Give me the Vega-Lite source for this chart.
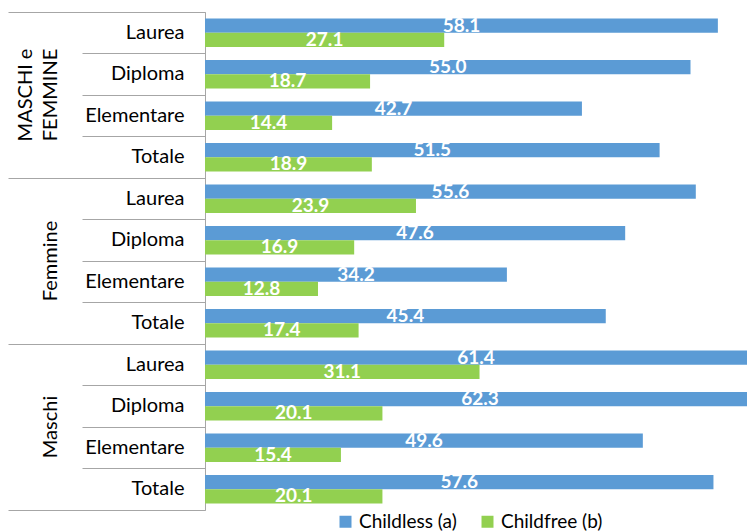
{
  "$schema": "https://vega.github.io/schema/vega-lite/v6.json",
  "width": 542,
  "height": 498,
  "autosize": {"type": "none"},
  "padding": {"left": 205, "top": 12, "right": 0, "bottom": 21},
  "config": {"view": {"stroke": null}, "font": "Lato"},
  "data": {
    "values": [
      {"key": "MASCHI e FEMMINE|Laurea", "group": "MASCHI e FEMMINE", "cat": "Laurea", "series": "Childless (a)", "value": 58.1},
      {"key": "MASCHI e FEMMINE|Laurea", "group": "MASCHI e FEMMINE", "cat": "Laurea", "series": "Childfree (b)", "value": 27.1},
      {"key": "MASCHI e FEMMINE|Diploma", "group": "MASCHI e FEMMINE", "cat": "Diploma", "series": "Childless (a)", "value": 55.0},
      {"key": "MASCHI e FEMMINE|Diploma", "group": "MASCHI e FEMMINE", "cat": "Diploma", "series": "Childfree (b)", "value": 18.7},
      {"key": "MASCHI e FEMMINE|Elementare", "group": "MASCHI e FEMMINE", "cat": "Elementare", "series": "Childless (a)", "value": 42.7},
      {"key": "MASCHI e FEMMINE|Elementare", "group": "MASCHI e FEMMINE", "cat": "Elementare", "series": "Childfree (b)", "value": 14.4},
      {"key": "MASCHI e FEMMINE|Totale", "group": "MASCHI e FEMMINE", "cat": "Totale", "series": "Childless (a)", "value": 51.5},
      {"key": "MASCHI e FEMMINE|Totale", "group": "MASCHI e FEMMINE", "cat": "Totale", "series": "Childfree (b)", "value": 18.9},
      {"key": "Femmine|Laurea", "group": "Femmine", "cat": "Laurea", "series": "Childless (a)", "value": 55.6},
      {"key": "Femmine|Laurea", "group": "Femmine", "cat": "Laurea", "series": "Childfree (b)", "value": 23.9},
      {"key": "Femmine|Diploma", "group": "Femmine", "cat": "Diploma", "series": "Childless (a)", "value": 47.6},
      {"key": "Femmine|Diploma", "group": "Femmine", "cat": "Diploma", "series": "Childfree (b)", "value": 16.9},
      {"key": "Femmine|Elementare", "group": "Femmine", "cat": "Elementare", "series": "Childless (a)", "value": 34.2},
      {"key": "Femmine|Elementare", "group": "Femmine", "cat": "Elementare", "series": "Childfree (b)", "value": 12.8},
      {"key": "Femmine|Totale", "group": "Femmine", "cat": "Totale", "series": "Childless (a)", "value": 45.4},
      {"key": "Femmine|Totale", "group": "Femmine", "cat": "Totale", "series": "Childfree (b)", "value": 17.4},
      {"key": "Maschi|Laurea", "group": "Maschi", "cat": "Laurea", "series": "Childless (a)", "value": 61.4},
      {"key": "Maschi|Laurea", "group": "Maschi", "cat": "Laurea", "series": "Childfree (b)", "value": 31.1},
      {"key": "Maschi|Diploma", "group": "Maschi", "cat": "Diploma", "series": "Childless (a)", "value": 62.3},
      {"key": "Maschi|Diploma", "group": "Maschi", "cat": "Diploma", "series": "Childfree (b)", "value": 20.1},
      {"key": "Maschi|Elementare", "group": "Maschi", "cat": "Elementare", "series": "Childless (a)", "value": 49.6},
      {"key": "Maschi|Elementare", "group": "Maschi", "cat": "Elementare", "series": "Childfree (b)", "value": 15.4},
      {"key": "Maschi|Totale", "group": "Maschi", "cat": "Totale", "series": "Childless (a)", "value": 57.6},
      {"key": "Maschi|Totale", "group": "Maschi", "cat": "Totale", "series": "Childfree (b)", "value": 20.1}
    ]
  },
  "layer": [
    {
      "mark": {"type": "bar", "clip": true},
      "encoding": {
        "y": {
          "field": "key", "type": "nominal", "sort": null,
          "scale": {"paddingInner": 0, "paddingOuter": 0},
          "axis": {
            "title": null, "orient": "left", "bandPosition": 1, "tickExtra": true,
            "tickSize": 123, "tickColor": "#a6a6a6", "tickWidth": 1,
            "domainColor": "#a6a6a6", "domainWidth": 1,
            "labelPadding": -102, "labelExpr": "split(datum.value, '|')[1]",
            "labelFont": "Lato", "labelFontSize": 20, "labelColor": "#000000",
            "labelAlign": "right", "labelBaseline": "middle", "labelLimit": 0
          }
        },
        "yOffset": {
          "field": "series", "type": "nominal", "sort": ["Childless (a)", "Childfree (b)"],
          "scale": {"paddingOuter": 0.46, "paddingInner": 0}
        },
        "x": {"field": "value", "type": "quantitative", "scale": {"domain": [0, 61.4]}, "axis": null},
        "color": {
          "field": "series", "type": "nominal", "sort": ["Childless (a)", "Childfree (b)"],
          "scale": {"range": ["#5B9BD5", "#92D050"]},
          "legend": {
            "title": null, "orient": "none", "legendX": 131, "legendY": 500, "direction": "horizontal",
            "symbolType": "square", "symbolSize": 144, "symbolStrokeWidth": 0,
            "labelFontSize": 19, "labelFont": "Lato", "labelColor": "#000000",
            "padding": 0, "columnPadding": 21, "labelOffset": 4
          }
        }
      }
    },
    {
      "mark": {"type": "text", "fontWeight": "bold", "fontSize": 19, "fill": "white", "baseline": "middle", "align": "center", "font": "Lato"},
      "encoding": {
        "y": {"field": "key", "type": "nominal", "sort": null, "scale": {"paddingInner": 0, "paddingOuter": 0}, "axis": null},
        "yOffset": {
          "field": "series", "type": "nominal", "sort": ["Childless (a)", "Childfree (b)"],
          "scale": {"paddingOuter": 0.46, "paddingInner": 0}
        },
        "x": {"field": "value", "type": "quantitative", "scale": {"domain": [0, 122.8]}, "axis": null},
        "text": {"field": "value", "type": "quantitative", "format": ".1f"}
      }
    },
    {
      "mark": {"type": "bar", "opacity": 0},
      "encoding": {
        "y": {
          "field": "group", "type": "nominal", "sort": ["MASCHI e FEMMINE", "Femmine", "Maschi"],
          "scale": {"paddingInner": 0, "paddingOuter": 0},
          "axis": {
            "title": null, "orient": "left", "bandPosition": 1, "tickExtra": true,
            "tickSize": 197, "tickColor": "#a6a6a6", "tickWidth": 1, "domain": false,
            "labelPadding": {"condition": {"test": "datum.value == 'MASCHI e FEMMINE'", "value": -27}, "value": -52},
            "labelAngle": 270,
            "labelExpr": "datum.value == 'MASCHI e FEMMINE' ? ['MASCHI e', 'FEMMINE'] : datum.value",
            "labelFont": "Lato", "labelFontSize": 20, "labelColor": "#000000",
            "labelAlign": "center", "labelBaseline": "bottom", "labelLineHeight": 25, "labelLimit": 0
          }
        },
        "x": {"field": "value", "type": "quantitative", "axis": null}
      }
    }
  ],
  "resolve": {"scale": {"y": "independent", "x": "independent"}, "axis": {"y": "independent"}}
}
